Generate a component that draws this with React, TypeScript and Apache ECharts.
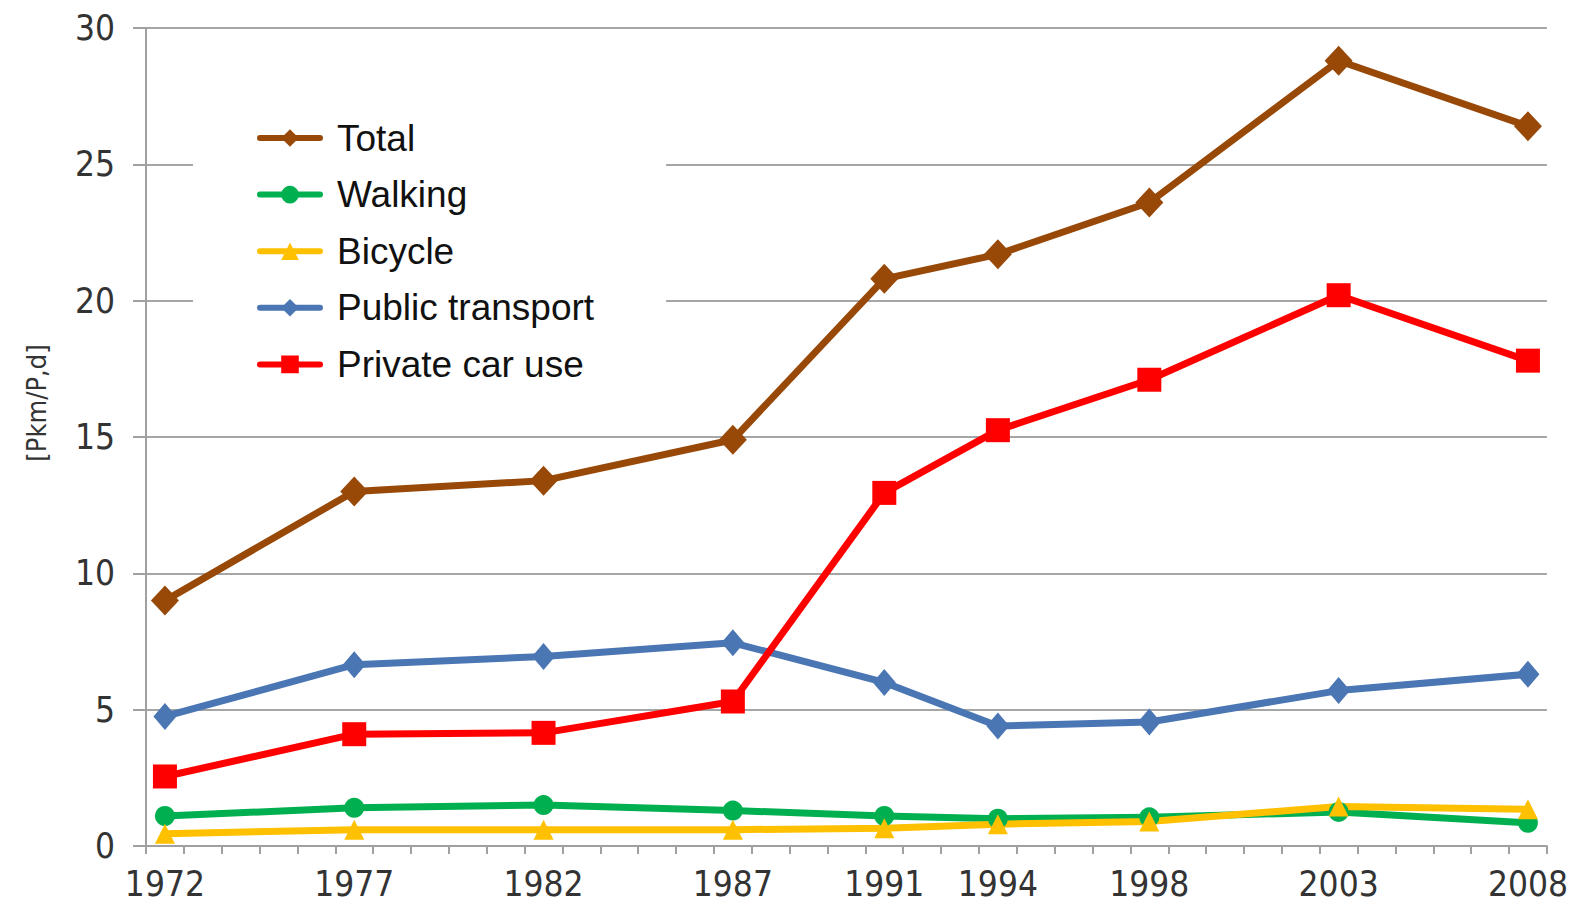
import React, { useEffect, useRef } from "react";
import * as echarts from "echarts";

const years = [1972, 1977, 1982, 1987, 1991, 1994, 1998, 2003, 2008];
const firstYear = 1972;
const lastYear = 2008;
const total = [9.0, 13.0, 13.4, 14.9, 20.8, 21.7, 23.6, 28.8, 26.4];
const walking = [1.1, 1.4, 1.5, 1.3, 1.1, 1.0, 1.05, 1.25, 0.85];
const bicycle = [0.45, 0.6, 0.6, 0.6, 0.65, 0.8, 0.9, 1.45, 1.35];
const publicTransport = [4.75, 6.65, 6.95, 7.45, 6.0, 4.4, 4.55, 5.7, 6.3];
const privateCar = [2.55, 4.1, 4.15, 5.3, 12.95, 15.25, 17.1, 20.2, 17.8];
const seriesNames = ["Total", "Walking", "Bicycle", "Public transport", "Private car use"];

const NARROW = "'Liberation Sans Narrow', 'Arial Narrow', 'DejaVu Sans Condensed', sans-serif";
const SANS = "'Liberation Sans', Arial, sans-serif";

export default function App() {
  const ref = useRef<HTMLDivElement>(null);
  useEffect(() => {
    if (!ref.current) return;
    const chart = echarts.init(ref.current, undefined, { renderer: "svg" });
    const categories: string[] = [];
    for (let y = firstYear; y <= lastYear; y++) categories.push(String(y));
    const toPairs = (vals: number[]) => vals.map((v, i) => [years[i] - firstYear, v]);
    const mk = (name: string, vals: number[], color: string, symbol: string, size: any) => ({
      name,
      type: "line",
      data: toPairs(vals),
      symbol,
      symbolSize: size,
      showSymbol: true,
      lineStyle: { color, width: 7, cap: "round", join: "round" },
      itemStyle: { color },
      emphasis: { disabled: true },
    });
    chart.setOption({
      animation: false,
      backgroundColor: "#ffffff",
      grid: { left: 146, right: 24, top: 28, bottom: 60, containLabel: false },
      legend: {
        orient: "vertical",
        left: 193,
        top: 93,
        data: seriesNames,
        itemWidth: 60,
        itemHeight: 22,
        itemGap: 16.6,
        backgroundColor: "#ffffff",
        padding: [25, 72, 18, 64],
        lineStyle: { width: 6, cap: "round" },
        textStyle: {
          fontSize: 37,
          fontFamily: SANS,
          color: "#111111",
          lineHeight: 40,
          padding: [0, 0, 0, 12],
        },
        selectedMode: false,
      },
      xAxis: {
        type: "category",
        data: categories,
        boundaryGap: true,
        axisLine: { lineStyle: { color: "#a0a0a0", width: 2 } },
        axisTick: { show: true, interval: 0, alignWithLabel: false, length: 8, lineStyle: { color: "#a0a0a0", width: 2 } },
        axisLabel: {
          interval: (index: number, value: string) => years.indexOf(Number(value)) >= 0,
          fontSize: 35,
          fontFamily: NARROW,
          color: "#333333",
          margin: 20,
        },
        splitLine: { show: false },
      },
      yAxis: {
        type: "value",
        min: 0,
        max: 30,
        interval: 5,
        name: "[Pkm/P,d]",
        nameLocation: "middle",
        nameRotate: 90,
        nameGap: 96,
        nameTextStyle: { fontSize: 27, fontFamily: NARROW, color: "#333333", padding: [0, 0, 0, 68] },
        axisLine: { show: true, lineStyle: { color: "#a0a0a0", width: 2 } },
        axisTick: { show: true, length: 13, lineStyle: { color: "#a0a0a0", width: 2 } },
        axisLabel: { fontSize: 35, fontFamily: NARROW, color: "#333333", margin: 31 },
        splitLine: { show: true, lineStyle: { color: "#a6a6a6", width: 2 } },
      },
      series: [
        mk("Total", total, "#984807", "diamond", [28, 30]),
        mk("Walking", walking, "#00b050", "circle", 20),
        mk("Bicycle", bicycle, "#ffc000", "triangle", 20),
        mk("Public transport", publicTransport, "#4a76b4", "diamond", [23, 27]),
        mk("Private car use", privateCar, "#ff0000", "rect", 24),
      ],
    });
    return () => chart.dispose();
  }, []);
  return (
    <div
      ref={ref}
      style={{ position: "absolute", left: 0, top: 0, width: 1571, height: 906, background: "#fff" }}
    />
  );
}
